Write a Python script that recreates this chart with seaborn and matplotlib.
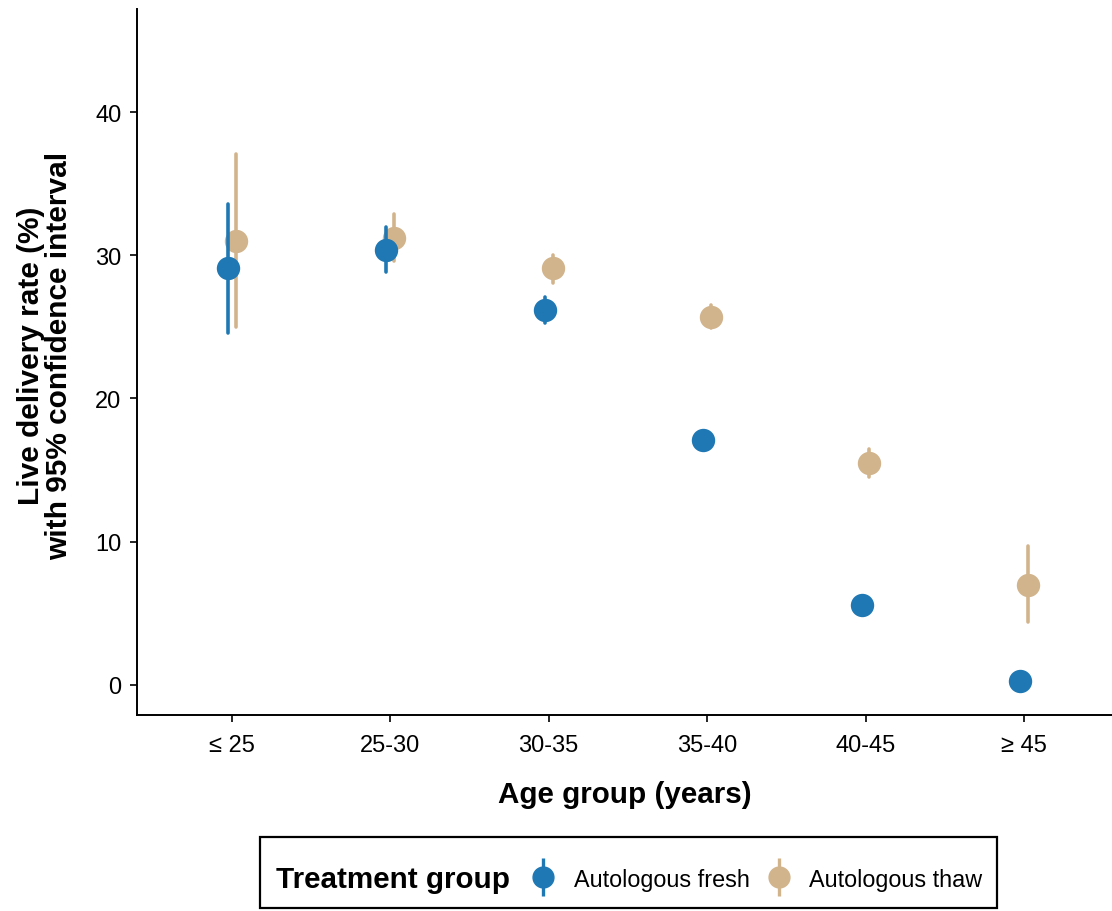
import pandas as pd
import matplotlib
matplotlib.use("Agg")
import matplotlib.pyplot as plt
import seaborn as sns
from matplotlib.lines import Line2D
from matplotlib.patches import Rectangle
from matplotlib.legend_handler import HandlerTuple

# age groups and treatment groups
ages = ["≤ 25", "25-30", "30-35", "35-40", "40-45", "≥ 45"]
groups = ["Autologous fresh", "Autologous thaw"]

# live delivery rate (%) with lower / upper 95% CI
fresh_rate = [29.1, 30.4, 26.2, 17.1, 5.6, 0.3]
fresh_low = [24.6, 28.8, 25.3, 16.8, 5.3, 0.1]
fresh_high = [33.6, 32.0, 27.1, 17.4, 5.9, 0.5]

thaw_rate = [31.0, 31.2, 29.1, 25.7, 15.5, 7.0]
thaw_low = [25.0, 29.6, 28.1, 24.9, 14.5, 4.4]
thaw_high = [37.1, 32.9, 30.0, 26.5, 16.5, 9.7]

colors = {"Autologous fresh": "#1F78B4", "Autologous thaw": "#D2B48C"}

rows = []
for g, est, lo, hi in [(groups[0], fresh_rate, fresh_low, fresh_high),
                       (groups[1], thaw_rate, thaw_low, thaw_high)]:
    for a, e, l, h in zip(ages, est, lo, hi):
        for v in (l, e, h):
            rows.append({"age": a, "group": g, "rate": v})
df = pd.DataFrame(rows)

sns.set_style("white")
plt.rcParams["font.family"] = ["Liberation Sans", "DejaVu Sans"]
plt.rcParams["text.color"] = "black"
plt.rcParams["axes.labelcolor"] = "black"

fig = plt.figure(figsize=(11.12, 9.12), dpi=100)
ax = fig.add_axes([0.123, 0.215, 0.877, 0.774])

# median of (low, est, high) = est, 100% interval = low..high
sns.pointplot(data=df, x="age", y="rate", hue="group", order=ages, hue_order=groups,
              palette=colors, estimator="median", errorbar=("pi", 100),
              linestyle="none", markers="o", markersize=14.8, dodge=0.05,
              err_kws={"linewidth": 2.6}, legend=False, ax=ax)

for ln in ax.lines:
    if matplotlib.colors.to_hex(ln.get_color()).lower() == "#1f78b4":
        ln.set_zorder(4)
    else:
        ln.set_zorder(3)

ax.set_xlim(-0.60, 5.556)
ax.set_ylim(-2.1, 47.2)
ax.set_yticks([0, 10, 20, 30, 40])
sns.despine(ax=ax)
for s in ["left", "bottom"]:
    ax.spines[s].set_color("black")
    ax.spines[s].set_linewidth(1.4)
ax.tick_params(axis="both", length=5, width=1.2, color="black", direction="out",
               labelsize=17, labelcolor="black", bottom=True, left=True)
ax.tick_params(axis="x", pad=9)
ax.tick_params(axis="y", pad=6)

ax.set_xlabel("Age group (years)", fontsize=21.3, fontweight="bold", labelpad=17)
ax.set_ylabel("Live delivery rate (%)\nwith 95% confidence interval", fontsize=21.5,
              fontweight="bold", labelpad=16, linespacing=1.0)
ax.yaxis.label.set_y(0.51)

# legend at the bottom, title on the left
handles = []
for g in groups:
    bar = Line2D([], [], linestyle="none", marker="|", markersize=27,
                 markeredgewidth=2.4, color=colors[g])
    dot = Line2D([], [], linestyle="none", marker="o", markersize=15, color=colors[g])
    handles.append((bar, dot))
fig.legend(handles, groups, handler_map={tuple: HandlerTuple(ndivide=1, pad=0)},
           ncol=2, frameon=False, fontsize=16.8, loc="center left",
           bbox_to_anchor=(0.456, 0.035), handlelength=1.3, handletextpad=0.65,
           columnspacing=0.6)
fig.text(0.248, 0.035, "Treatment group", fontsize=21.3, fontweight="bold",
         va="center", ha="left")
fig.patches.append(Rectangle((0.234, 0.003), 0.663, 0.078, transform=fig.transFigure,
                             fill=False, edgecolor="black", linewidth=1.6))

fig.savefig("out.png", dpi=100)
